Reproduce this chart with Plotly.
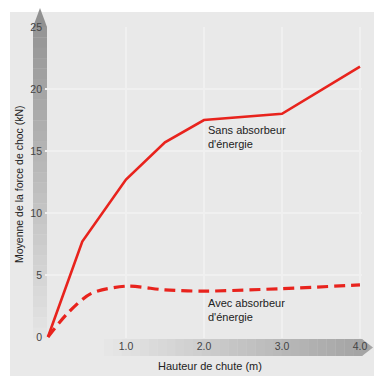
import plotly.graph_objects as go

# Data
x_sans = [0.0, 0.44, 1.0, 1.5, 2.0, 3.0, 4.0]
y_sans = [0.0, 7.7, 12.7, 15.7, 17.5, 18.0, 21.8]
x_avec = [0.0, 0.25, 0.55, 1.0, 1.5, 2.0, 3.0, 4.0]
y_avec = [0.0, 1.9, 3.5, 4.1, 3.8, 3.7, 3.9, 4.2]
x_ticks = [1.0, 2.0, 3.0, 4.0]
x_ticklabels = ["1.0", "2.0", "3.0", "4.0"]
y_ticks = [0, 5, 10, 15, 20, 25]
label_sans = "Sans absorbeur<br>d'énergie"
label_avec = "Avec absorbeur<br>d'énergie"
x_title = "Hauteur de chute (m)"
y_title = "Moyenne de la force de choc (kN)"

W, H = 374, 376
L, R, T, B = 45, 12, 27, 38
PW, PH = W - L - R, H - T - B

def px(x):
    return (x - L) / PW

def py(y):
    return (H - B - y) / PH

RED = "#e8231d"
FONT = "Liberation Sans, Arial, sans-serif"

fig = go.Figure()
fig.add_trace(go.Scatter(x=x_sans, y=y_sans, mode="lines",
                         line=dict(color=RED, width=2.6), hoverinfo="skip"))
fig.add_trace(go.Scatter(x=x_avec, y=y_avec, mode="lines",
                         line=dict(color=RED, width=3.2, dash="11px,6px", shape="spline", smoothing=0.8),
                         hoverinfo="skip"))

shapes = []
# outer light grey panel
shapes.append(dict(type="rect", xref="paper", yref="paper", layer="below",
                   x0=px(10), x1=px(374), y0=py(376), y1=py(12),
                   fillcolor="#e9e9e9", line=dict(width=0)))

def grey(v):
    c = int(v)
    return f"rgb({c},{c},{c})"

# y-axis bar with vertical gradient (dark top -> light bottom)
n = 30
top, bot = 27, 338
for i in range(n):
    y0 = top + (bot - top) * i / n
    y1 = top + (bot - top) * (i + 1) / n
    g = 150 + (228 - 150) * i / (n - 1)
    shapes.append(dict(type="rect", xref="paper", yref="paper", layer="below",
                       x0=px(33), x1=px(47), y0=py(y1) - 0.001, y1=py(y0),
                       fillcolor=grey(g), line=dict(width=0)))
shapes.append(dict(type="path", xref="paper", yref="paper", layer="below",
                   path=f"M {px(33)} {py(27)} L {px(40)} {py(8)} L {px(47)} {py(27)} Z",
                   fillcolor=grey(145), line=dict(width=0)))

# x-axis bar with horizontal gradient (light left -> dark right)
left, right = 95, 362
for i in range(n):
    x0 = left + (right - left) * i / n
    x1 = left + (right - left) * (i + 1) / n
    g = 233 - (233 - 165) * i / (n - 1)
    shapes.append(dict(type="rect", xref="paper", yref="paper", layer="below",
                       x0=px(x0), x1=px(x1) + 0.001, y0=py(356), y1=py(339),
                       fillcolor=grey(g), line=dict(width=0)))
shapes.append(dict(type="path", xref="paper", yref="paper", layer="below",
                   path=f"M {px(362)} {py(339)} L {px(373)} {py(347.5)} L {px(362)} {py(356)} Z",
                   fillcolor=grey(165), line=dict(width=0)))

annotations = [
    dict(x=2.03, y=17.35, xref="x", yref="y", text=label_sans, showarrow=False,
         xanchor="left", yanchor="top", align="left",
         font=dict(family=FONT, size=11, color="#222")),
    dict(x=2.03, y=3.36, xref="x", yref="y", text=label_avec, showarrow=False,
         xanchor="left", yanchor="top", align="left",
         font=dict(family=FONT, size=11, color="#222")),
    dict(x=px(210), y=py(366), xref="paper", yref="paper", text=x_title, showarrow=False,
         xanchor="center", yanchor="middle",
         font=dict(family=FONT, size=11, color="#222")),
    dict(x=px(19), y=py(184), xref="paper", yref="paper", text=y_title, showarrow=False,
         xanchor="center", yanchor="middle", textangle=-90,
         font=dict(family=FONT, size=10.5, color="#222")),
]

fig.update_layout(
    template="none",
    width=W, height=H,
    margin=dict(l=L, r=R, t=T, b=B, autoexpand=False),
    paper_bgcolor="white", plot_bgcolor="white",
    showlegend=False,
    shapes=shapes, annotations=annotations,
    xaxis=dict(range=[-0.038, 4.026], tickvals=x_ticks, ticktext=x_ticklabels, automargin=False,
               showgrid=True, gridcolor="#f0f0f0", gridwidth=1.5, zeroline=False,
               showline=False, ticks="", tickfont=dict(family=FONT, size=10.5, color="#444"),
               fixedrange=True),
    yaxis=dict(range=[-0.08, 25], tickvals=y_ticks, automargin=False,
               showgrid=True, gridcolor="#f0f0f0", gridwidth=1.5, zeroline=False,
               showline=False, ticks="", ticklabelstandoff=2,
               tickfont=dict(family=FONT, size=10.5, color="#444"), fixedrange=True),
)

fig.write_html("out.html", config={"displayModeBar": False},
               post_script="document.body.style.margin='0';document.body.style.padding='0';document.body.style.overflow='hidden';")
